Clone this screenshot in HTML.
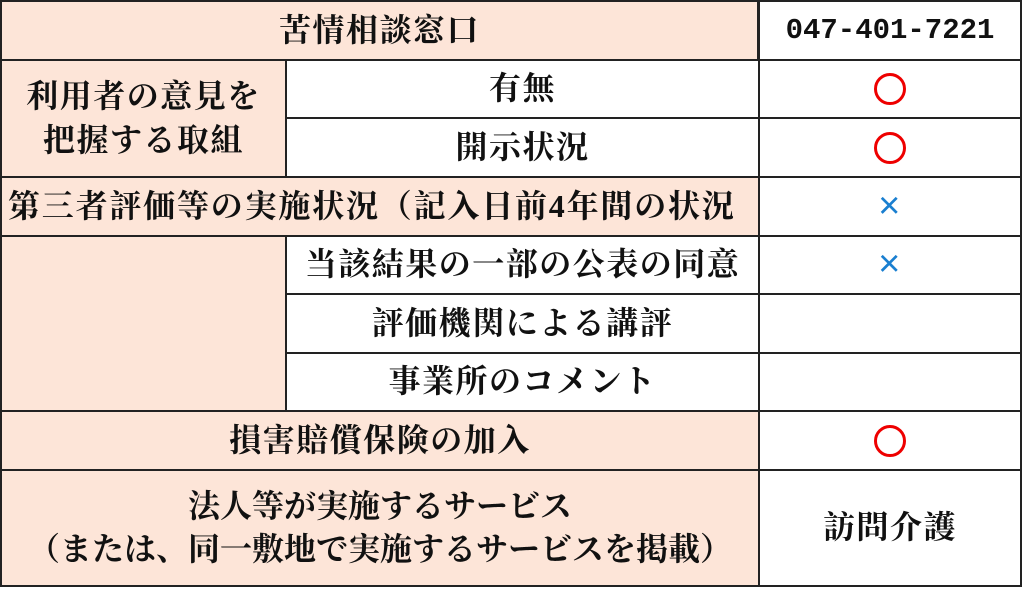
<!DOCTYPE html>
<html><head><meta charset="utf-8"><style>
body{margin:0;width:1024px;height:589px;background:#fff;overflow:hidden}
.c{position:absolute;box-sizing:border-box;border:2px solid #222;display:flex;align-items:center;justify-content:center;text-align:center;font-family:"Liberation Serif","Noto Serif CJK SC",serif;font-size:32px;font-weight:bold;letter-spacing:1.5px;color:#111;line-height:1.35;margin:-1px 0 0 -1px}
.p{background:#fde5d8}
.o{display:inline-block;width:26px;height:26px;border:3px solid #e00;border-radius:50%}
.x{color:#1a7fd0;font-family:"Liberation Sans",sans-serif;font-size:38px;font-weight:normal}
</style></head><body>
<div class="c p" style="left:1px;top:1px;width:759px;height:61px">苦情相談窓口</div>
<div class="c" style="left:759px;top:1px;width:264px;height:61px;font-family:'Liberation Mono',monospace;font-size:29px;letter-spacing:0">047-401-7221</div>
<div class="c p" style="left:1px;top:60px;width:287px;height:119px">利用者の意見を<br>把握する取組</div>
<div class="c" style="left:286px;top:60px;width:475px;height:60px">有無</div>
<div class="c" style="left:759px;top:60px;width:264px;height:60px"><span class="o"></span></div>
<div class="c" style="left:286px;top:118px;width:475px;height:61px">開示状況</div>
<div class="c" style="left:759px;top:118px;width:264px;height:61px"><span class="o"></span></div>
<div class="c p" style="left:1px;top:177px;width:760px;height:61px;justify-content:flex-start;padding-left:6px;letter-spacing:1.8px;white-space:nowrap">第三者評価等の実施状況（記入日前4年間の状況</div>
<div class="c" style="left:759px;top:177px;width:264px;height:61px"><span class="x">×</span></div>
<div class="c p" style="left:1px;top:236px;width:287px;height:177px"></div>
<div class="c" style="left:286px;top:236px;width:475px;height:60px;white-space:nowrap">当該結果の一部の公表の同意</div>
<div class="c" style="left:759px;top:236px;width:264px;height:60px"><span class="x">×</span></div>
<div class="c" style="left:286px;top:294px;width:475px;height:61px">評価機関による講評</div>
<div class="c" style="left:759px;top:294px;width:264px;height:61px"></div>
<div class="c" style="left:286px;top:353px;width:475px;height:60px">事業所のコメント</div>
<div class="c" style="left:759px;top:353px;width:264px;height:60px"></div>
<div class="c p" style="left:1px;top:411px;width:760px;height:61px">損害賠償保険の加入</div>
<div class="c" style="left:759px;top:411px;width:264px;height:61px"><span class="o"></span></div>
<div class="c p" style="left:1px;top:470px;width:760px;height:118px;letter-spacing:0;white-space:nowrap">法人等が実施するサービス<br>（または、同一敷地で実施するサービスを掲載）</div>
<div class="c" style="left:759px;top:470px;width:264px;height:118px">訪問介護</div>
</body></html>
